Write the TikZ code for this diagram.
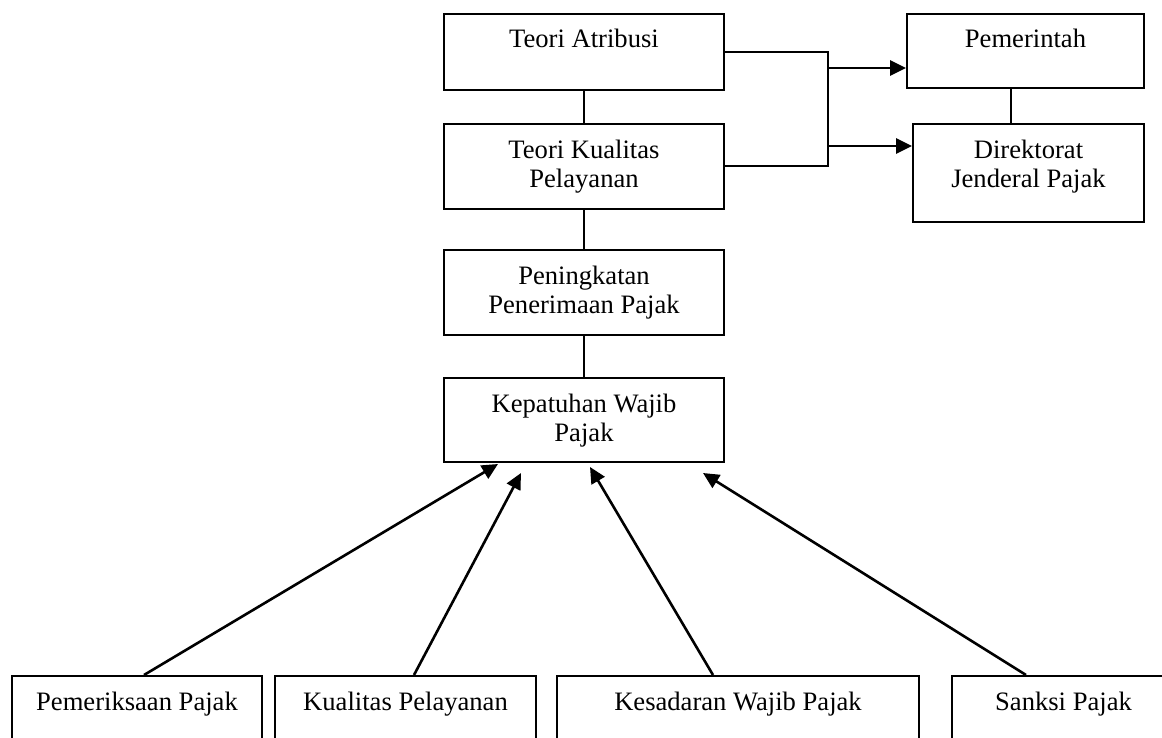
\documentclass[tikz,border=0pt]{standalone}
\usepackage{fontspec}
\setmainfont{Liberation Serif}
\usetikzlibrary{arrows.meta,calc}

\begin{document}
\begin{tikzpicture}[
  x=0.5pt, y=-0.5pt,
  kotak/.style={draw, line width=1pt, align=center, inner xsep=0pt, inner ysep=0pt,
    text height=17pt, anchor=north west, font=\fontsize{13.3}{14.5}\selectfont},
  duabaris/.style={text height=31.5pt},
  garis/.style={line width=1pt},
  panah/.style={line width=1.3pt, -{Triangle[length=8pt,width=7.5pt]}},
  ]
\useasboundingbox (0,0) rectangle (1162,738);
\clip (0,0) rectangle (1162,738);
% kolom tengah
\node[kotak, minimum width=140pt, text depth=21pt] (atribusi) at (443,13) {Teori Atribusi};
\node[kotak, duabaris, minimum width=140pt, text depth=11pt] (kualitasteori) at (443,123) {Teori Kualitas\\Pelayanan};
\node[kotak, duabaris, minimum width=140pt, text depth=11pt] (peningkatan) at (443,249) {Peningkatan\\Penerimaan Pajak};
\node[kotak, duabaris, minimum width=140pt, text depth=10.5pt] (kepatuhan) at (443,377) {Kepatuhan Wajib\\Pajak};
% kanan
\node[kotak, minimum width=118.5pt, text depth=20pt] (pemerintah) at (906,13) {Pemerintah};
\node[kotak, duabaris, minimum width=115.5pt, text depth=17.5pt] (direktorat) at (912,123) {Direktorat\\Jenderal Pajak};
% baris bawah
\node[kotak, minimum width=125pt, text depth=40pt] (pemeriksaan) at (11,675) {Pemeriksaan Pajak};
\node[kotak, minimum width=130.5pt, text depth=40pt] (kualitas) at (274,675) {Kualitas Pelayanan};
\node[kotak, minimum width=181pt, text depth=40pt] (kesadaran) at (556,675) {Kesadaran Wajib Pajak};
\node[kotak, minimum width=111.5pt, text depth=40pt] (sanksi) at (951,675) {Sanksi Pajak};

\draw[garis] (atribusi) -- (kualitasteori);
\draw[garis] (kualitasteori) -- (peningkatan);
\draw[garis] (peningkatan) -- (kepatuhan);

\coordinate (cabang) at (828,0);
\coordinate (cabang1) at (828,68);
\coordinate (cabang2) at (828,146);
\coordinate (sambung) at (1011,0);
\draw[garis] (atribusi.east) -- (atribusi.east -| cabang) -- (kualitasteori.east -| cabang) -- (kualitasteori.east);
\draw[panah] (cabang1) -- (cabang1 -| pemerintah.west);
\draw[panah] (cabang2) -- (cabang2 -| direktorat.west);
\draw[garis] (pemerintah.south -| sambung) -- (direktorat.north -| sambung);

\draw[panah] ($(pemeriksaan.north)+(7,0)$) -- ($(kepatuhan.south)+(-86,1)$);
\draw[panah] ($(kualitas.north)+(8.5,0)$) -- ($(kepatuhan.south)+(-63,10)$);
\draw[panah] ($(kesadaran.north)+(-25,0)$) -- ($(kepatuhan.south)+(6,4)$);
\draw[panah] ($(sanksi.north)+(-37.5,0)$) -- ($(kepatuhan.south)+(119,10)$);
\end{tikzpicture}
\end{document}
